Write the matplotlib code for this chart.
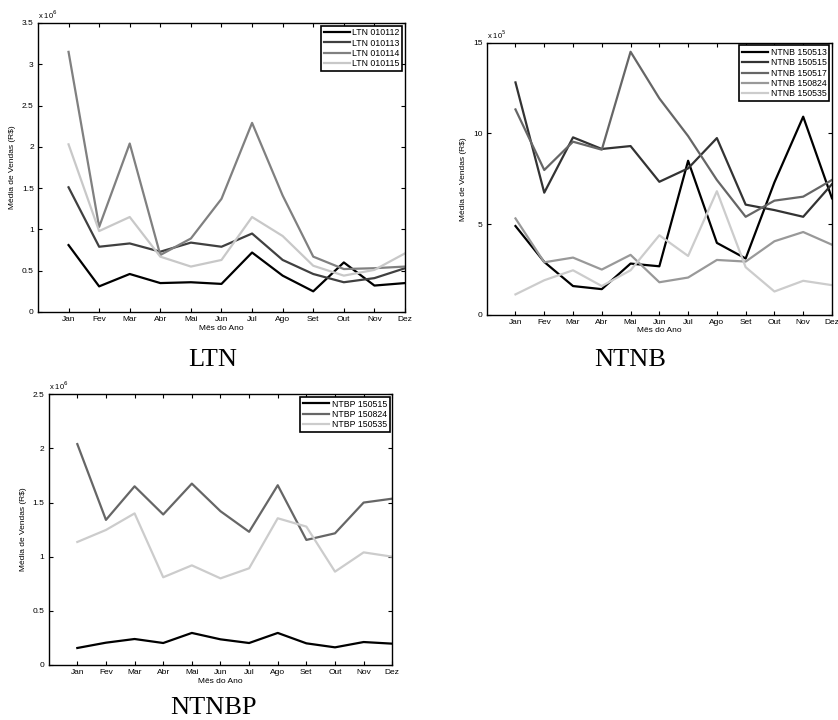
import numpy as np
import matplotlib.pyplot as plt

meses = ['Jan', 'Fev', 'Mar', 'Abr', 'Mai', 'Jun', 'Jul', 'Ago', 'Set', 'Out', 'Nov', 'Dez']

# LTN (x 10^6)
ltn_nomes = ['LTN 010112', 'LTN 010113', 'LTN 010114', 'LTN 010115']
ltn_010112 = [0.81, 0.31, 0.46, 0.35, 0.36, 0.34, 0.72, 0.44, 0.25, 0.60, 0.32, 0.35]
ltn_010113 = [1.51, 0.79, 0.83, 0.73, 0.84, 0.79, 0.95, 0.63, 0.46, 0.36, 0.41, 0.53]
ltn_010114 = [3.15, 1.03, 2.04, 0.69, 0.89, 1.37, 2.29, 1.41, 0.67, 0.52, 0.53, 0.55]
ltn_010115 = [2.03, 0.98, 1.15, 0.67, 0.55, 0.63, 1.15, 0.92, 0.56, 0.44, 0.51, 0.71]

# NTNB (x 10^5)
ntnb_nomes = ['NTNB 150513', 'NTNB 150515', 'NTNB 150517', 'NTNB 150824', 'NTNB 150535']
ntnb_150513 = [4.89, 2.91, 1.58, 1.41, 2.82, 2.67, 8.49, 3.96, 3.10, 7.30, 10.92, 6.42]
ntnb_150515 = [12.81, 6.73, 9.78, 9.14, 9.30, 7.33, 8.07, 9.74, 6.07, 5.77, 5.40, 7.20]
ntnb_150517 = [11.32, 7.98, 9.54, 9.10, 14.50, 11.93, 9.85, 7.43, 5.40, 6.29, 6.51, 7.43]
ntnb_150824 = [5.31, 2.89, 3.15, 2.49, 3.30, 1.79, 2.05, 3.02, 2.93, 4.05, 4.56, 3.86]
ntnb_150535 = [1.12, 1.90, 2.45, 1.58, 2.45, 4.38, 3.24, 6.81, 2.62, 1.28, 1.87, 1.63]

# NTNBP (x 10^6)
ntbp_nomes = ['NTBP 150515', 'NTBP 150824', 'NTBP 150535']
ntbp_150515 = [0.157, 0.206, 0.240, 0.203, 0.296, 0.237, 0.203, 0.296, 0.200, 0.163, 0.212, 0.197]
ntbp_150824 = [2.04, 1.34, 1.65, 1.39, 1.675, 1.42, 1.23, 1.66, 1.155, 1.216, 1.50, 1.536]
ntbp_150535 = [1.136, 1.247, 1.40, 0.81, 0.92, 0.80, 0.893, 1.355, 1.278, 0.862, 1.04, 1.00]

plt.rcParams['font.family'] = ['Liberation Sans', 'DejaVu Sans']

x = np.arange(1, 13)
fig = plt.figure(figsize=(8.38, 7.2), dpi=100)


def painel(pos, series, nomes, cores, ymax, ystep, expo, titulo, titulo_xy):
    ax = fig.add_axes(pos)
    for s, n, c in zip(series, nomes, cores):
        ax.plot(x, s, color=c, lw=1.6, label=n)
    ax.set_xlim(0, 12)
    ax.set_ylim(0, ymax)
    ax.set_xticks(x)
    ax.set_xticklabels(meses)
    yt = np.arange(0, ymax + ystep / 2, ystep)
    ax.set_yticks(yt)
    ax.set_yticklabels(['%g' % v for v in yt])
    ax.tick_params(direction='in', top=True, right=True, length=3, width=0.8,
                   labelsize=6, pad=3)
    for sp in ax.spines.values():
        sp.set_linewidth(1.0)
    ax.set_xlabel('Mês do Ano', fontsize=6, labelpad=1)
    ax.set_ylabel('Média de Vendas (R\\$)', fontsize=6, labelpad=4)
    ax.text(0, 1.008, 'x 10$^{%d}$' % expo, transform=ax.transAxes,
            fontsize=5.5, ha='left', va='bottom')
    leg = ax.legend(loc='upper right', fontsize=6.3, handlelength=3.0,
                    borderaxespad=0.3, labelspacing=0.15, handletextpad=0.3,
                    borderpad=0.3, fancybox=False, framealpha=1)
    leg.get_frame().set_edgecolor('black')
    leg.get_frame().set_linewidth(1.2)
    fig.text(titulo_xy[0], titulo_xy[1], titulo, family='Liberation Serif',
             fontsize=19, ha='center', va='center')
    return ax


painel([0.0453, 0.5667, 0.438, 0.4014],
       [ltn_010112, ltn_010113, ltn_010114, ltn_010115], ltn_nomes,
       ['#000000', '#404040', '#808080', '#c8c8c8'],
       3.5, 0.5, 6, 'LTN', (213 / 838, 1 - 360 / 720))

painel([0.5808, 0.5629, 0.412, 0.3778],
       [ntnb_150513, ntnb_150515, ntnb_150517, ntnb_150824, ntnb_150535], ntnb_nomes,
       ['#000000', '#333333', '#666666', '#999999', '#cccccc'],
       15, 5, 5, 'NTNB', (630 / 838, 1 - 360 / 720))

painel([0.0581, 0.0764, 0.41, 0.376],
       [ntbp_150515, ntbp_150824, ntbp_150535], ntbp_nomes,
       ['#000000', '#666666', '#cccccc'],
       2.5, 0.5, 6, 'NTNBP', (213 / 838, 1 - 708 / 720))

fig.savefig('out.png', dpi=100)
